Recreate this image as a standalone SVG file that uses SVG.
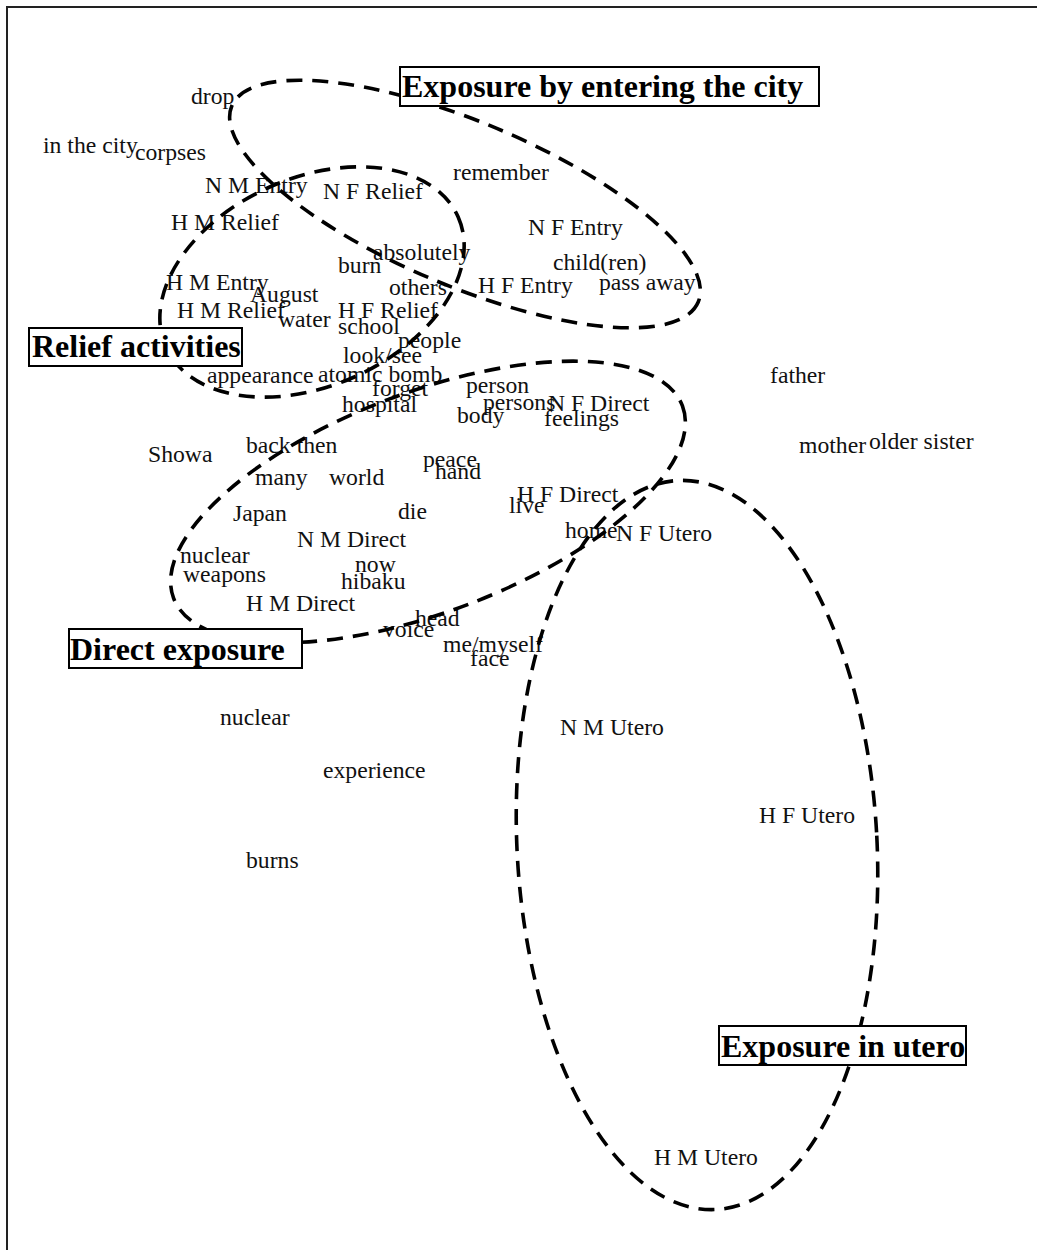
<svg xmlns="http://www.w3.org/2000/svg" width="1037" height="1250" viewBox="0 0 1037 1250">
<style>
.w{font-family:"Liberation Serif","Times New Roman",serif;font-size:23.7px;fill:#111}
.t{font-family:"Liberation Serif","Times New Roman",serif;font-size:32px;font-weight:bold;fill:#000}
.box{fill:#fff;stroke:#000;stroke-width:2}
.cl{fill:none;stroke:#000;stroke-width:3.6;stroke-dasharray:16 10}
</style>
<rect x="7" y="7" width="1100" height="1300" fill="#fff" stroke="#222" stroke-width="2"/>
<g id="words">
<g id="w-drop"><text class="w" x="191" y="104">drop</text></g>
<g id="w-inthecity"><text class="w" x="43" y="153">in the city</text></g>
<g id="w-corpses"><text class="w" x="135" y="160">corpses</text></g>
<g id="w-nmentry"><text class="w" x="205" y="193">N M Entry</text></g>
<g id="w-nfrelief"><text class="w" x="323" y="199">N F Relief</text></g>
<g id="w-remember"><text class="w" x="453" y="180">remember</text></g>
<g id="w-hmrelief1"><text class="w" x="171" y="230">H M Relief</text></g>
<g id="w-nfentry"><text class="w" x="528" y="235">N F Entry</text></g>
<g id="w-absolutely"><text class="w" x="373" y="260">absolutely</text></g>
<g id="w-burn"><text class="w" x="338" y="273">burn</text></g>
<g id="w-children"><text class="w" x="553" y="270">child(ren)</text></g>
<g id="w-hmentry"><text class="w" x="166" y="290">H M Entry</text></g>
<g id="w-august"><text class="w" x="250" y="302">August</text></g>
<g id="w-others"><text class="w" x="389" y="295">others</text></g>
<g id="w-hfentry"><text class="w" x="478" y="293">H F Entry</text></g>
<g id="w-passaway"><text class="w" x="599" y="290">pass away</text></g>
<g id="w-hmrelief2"><text class="w" x="177" y="318">H M Relief</text></g>
<g id="w-hfrelief"><text class="w" x="338" y="318">H F Relief</text></g>
<g id="w-water"><text class="w" x="278" y="327">water</text></g>
<g id="w-school"><text class="w" x="338" y="334">school</text></g>
<g id="w-people"><text class="w" x="398" y="348">people</text></g>
<g id="w-looksee"><text class="w" x="343" y="363">look/see</text></g>
<g id="w-appearance"><text class="w" x="207" y="383">appearance</text></g>
<g id="w-atomicbomb"><text class="w" x="318" y="382">atomic bomb</text></g>
<g id="w-forget"><text class="w" x="372" y="396">forget</text></g>
<g id="w-hospital"><text class="w" x="342" y="412">hospital</text></g>
<g id="w-father"><text class="w" x="770" y="383">father</text></g>
<g id="w-person"><text class="w" x="466" y="393">person</text></g>
<g id="w-persons"><text class="w" x="483" y="410">persons</text></g>
<g id="w-nfdirect"><text class="w" x="548" y="411">N F Direct</text></g>
<g id="w-body"><text class="w" x="457" y="423">body</text></g>
<g id="w-feelings"><text class="w" x="544" y="426">feelings</text></g>
<g id="w-mother"><text class="w" x="799" y="453">mother</text></g>
<g id="w-oldersister"><text class="w" x="869" y="449">older sister</text></g>
<g id="w-showa"><text class="w" x="148" y="462">Showa</text></g>
<g id="w-backthen"><text class="w" x="246" y="453">back then</text></g>
<g id="w-many"><text class="w" x="255" y="485">many</text></g>
<g id="w-world"><text class="w" x="329" y="485">world</text></g>
<g id="w-peace"><text class="w" x="423" y="467">peace</text></g>
<g id="w-hand"><text class="w" x="435" y="479">hand</text></g>
<g id="w-hfdirect"><text class="w" x="517" y="502">H F Direct</text></g>
<g id="w-live"><text class="w" x="509" y="513">live</text></g>
<g id="w-japan"><text class="w" x="233" y="521">Japan</text></g>
<g id="w-die"><text class="w" x="398" y="519">die</text></g>
<g id="w-home"><text class="w" x="565" y="538">home</text></g>
<g id="w-nfutero"><text class="w" x="616" y="541">N F Utero</text></g>
<g id="w-nmdirect"><text class="w" x="297" y="547">N M Direct</text></g>
<g id="w-nuclear1"><text class="w" x="180" y="563">nuclear</text></g>
<g id="w-now"><text class="w" x="355" y="572">now</text></g>
<g id="w-weapons"><text class="w" x="183" y="582">weapons</text></g>
<g id="w-hibaku"><text class="w" x="341" y="589">hibaku</text></g>
<g id="w-hmdirect"><text class="w" x="246" y="611">H M Direct</text></g>
<g id="w-voice"><text class="w" x="383" y="637">voice</text></g>
<g id="w-head"><text class="w" x="415" y="626">head</text></g>
<g id="w-memyself"><text class="w" x="443" y="652">me/myself</text></g>
<g id="w-face"><text class="w" x="470" y="666">face</text></g>
<g id="w-nuclear2"><text class="w" x="220" y="725">nuclear</text></g>
<g id="w-nmutero"><text class="w" x="560" y="735">N M Utero</text></g>
<g id="w-experience"><text class="w" x="323" y="778">experience</text></g>
<g id="w-hfutero"><text class="w" x="759" y="823">H F Utero</text></g>
<g id="w-burns"><text class="w" x="246" y="868">burns</text></g>
<g id="w-hmutero"><text class="w" x="654" y="1165">H M Utero</text></g>
</g>
<g id="connectors">
<ellipse id="c-entry" class="cl" cx="465" cy="204" rx="253" ry="82" transform="rotate(22.8 465 204)"/>
<ellipse id="c-relief" class="cl" cx="312" cy="282" rx="160" ry="104" transform="rotate(-24 312 282)"/>
<ellipse id="c-direct" class="cl" cx="428" cy="502" rx="272" ry="110" transform="rotate(-20.7 428 502)"/>
<ellipse id="c-utero" class="cl" cx="697" cy="845" rx="180" ry="365" transform="rotate(-3 697 845)"/>
</g>
<g id="n-entry"><rect class="box" x="400" y="67" width="419" height="39"/><text class="t" x="402" y="97">Exposure by entering the city</text></g>
<g id="n-relief"><rect class="box" x="29" y="328" width="213" height="38"/><text class="t" x="32" y="357">Relief activities</text></g>
<g id="n-direct"><rect class="box" x="69" y="629" width="233" height="39"/><text class="t" x="70" y="660">Direct exposure</text></g>
<g id="n-utero"><rect class="box" x="719" y="1026" width="247" height="39"/><text class="t" x="721" y="1057">Exposure in utero</text></g>
</svg>
